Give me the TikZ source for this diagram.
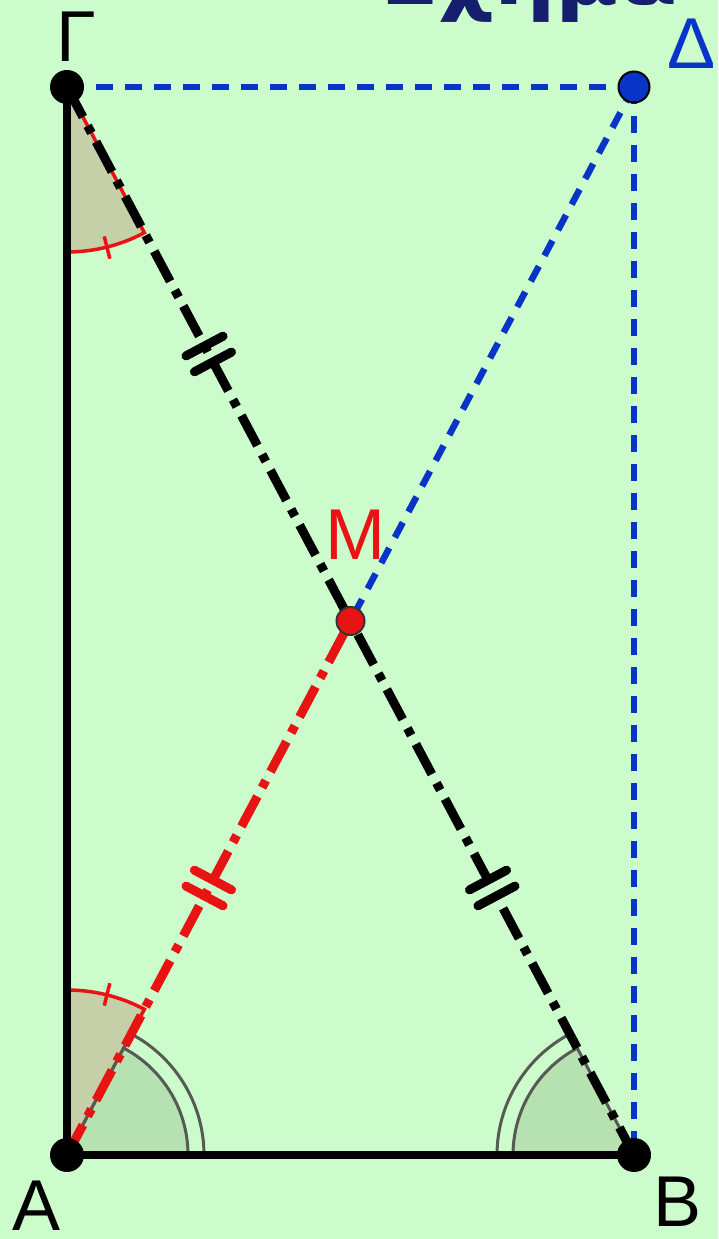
\documentclass[tikz,border=0pt]{standalone}
\usepackage{fontspec}
\usetikzlibrary{calc}
\setmainfont{Liberation Sans}
\newfontfamily\titlefont{DejaVu Sans}
\definecolor{bg}{RGB}{204,252,204}
\definecolor{bl}{RGB}{8,52,200}
\definecolor{rd}{RGB}{232,20,20}
\definecolor{khaki}{RGB}{198,208,168}
\definecolor{sect}{RGB}{182,226,178}
\definecolor{arcg}{RGB}{85,90,85}
\definecolor{navy}{RGB}{22,30,110}
\begin{document}
\begin{tikzpicture}[x=1pt,y=1pt,
  solidln/.style={line width=8pt, black},
  bluedash/.style={line width=6.5pt, bl, dash pattern=on 17pt off 12pt},
  blkdashdot/.style={line width=9pt, black, dash pattern=on 34pt off 10pt on 8pt off 10pt},
  reddashdot/.style={line width=9pt, rd, dash pattern=on 34pt off 10pt on 8pt off 10pt},
  redarc/.style={draw=rd, line width=3.5pt},
  grayarc/.style={draw=arcg, line width=3pt},
  tickbar/.style={line width=9pt, line cap=round},
  blackdot/.style={circle, fill=black, minimum size=34pt, inner sep=0pt},
  bluedot/.style={circle, fill=bl, draw=black, line width=2pt, minimum size=31pt, inner sep=0pt},
  reddot/.style={circle, fill=rd, draw=black!80, line width=2pt, minimum size=28pt, inner sep=0pt},
  lbl/.style={inner sep=0pt, font=\fontsize{72}{72}\selectfont},
  dtick/.pic={\draw[tickbar] (-9,-21) -- (-9,21) (9,-21) -- (9,21);}
]
\useasboundingbox (0,0) rectangle (718,1239);
\fill[bg] (0,0) rectangle (718,1239);

% points
\coordinate (G) at (67,1152);
\coordinate (D) at (634,1152);
\coordinate (A) at (67,84);
\coordinate (B) at (634,84);
\coordinate (M) at (350.5,618);

% title (cut at top)
\node[anchor=base west, inner sep=0pt, text=navy, font=\titlefont\bfseries\fontsize{86}{86}\selectfont] (title) at (380,1234) {Σχήμα};

% red (single-tick) angle sectors
\filldraw[fill=khaki, redarc] (G) -- ++(270:165) arc[start angle=270, end angle=297.97, radius=165] -- cycle;
\draw[redarc] ([shift={(284:154)}]G) -- ([shift={(284:177)}]G);
\filldraw[fill=khaki, redarc] (A) -- ++(62.03:165) arc[start angle=62.03, end angle=90, radius=165] -- cycle;
\draw[redarc] ([shift={(76:154)}]A) -- ([shift={(76:177)}]A);

% double-arc sectors
\fill[sect] (A) -- ++(0:121) arc[start angle=0, end angle=62.03, radius=121] -- cycle;
\draw[grayarc] (A) ++(0:121) arc[start angle=0, end angle=62.03, radius=121];
\draw[grayarc] (A) ++(0:137) arc[start angle=0, end angle=62.03, radius=137];
\draw[grayarc] (A) -- ++(62.03:137);
\fill[sect] (B) -- ++(180:121) arc[start angle=180, end angle=117.97, radius=121] -- cycle;
\draw[grayarc] (B) ++(180:121) arc[start angle=180, end angle=117.97, radius=121];
\draw[grayarc] (B) ++(180:137) arc[start angle=180, end angle=117.97, radius=137];
\draw[grayarc] (B) -- ++(117.97:137);

% sides
\draw[solidln] (A) -- (G);
\draw[solidln] (A) -- (B);
\draw[bluedash] (G) -- (D);
\draw[bluedash] (D) -- (B);
\draw[bluedash] (D) -- (M);
\draw[blkdashdot] (G) -- (B);
\draw[reddashdot] (A) -- (M);

% equal-length ticks
\pic[rotate=-62.03] at ($(G)!0.5!(M)$) {dtick};
\pic[rotate=-62.03] at ($(M)!0.5!(B)$) {dtick};
\pic[rotate=62.03, rd] at ($(A)!0.5!(M)$) {dtick};

% dots
\node[blackdot] (Gd) at (G) {};
\node[blackdot] (Ad) at (A) {};
\node[blackdot] (Bd) at (B) {};
\node[bluedot] (Dd) at (D) {};
\node[reddot] (Md) at (M) {};

% labels
\node[lbl] (lG) at (76,1202) {Γ};
\node[lbl, text=bl] (lD) at (692,1195) {Δ};
\node[lbl, text=rd] (lM) at (355,704) {M};
\node[lbl] (lA) at (37,33) {A};
\node[lbl] (lB) at (678,37) {B};
\end{tikzpicture}
\end{document}
